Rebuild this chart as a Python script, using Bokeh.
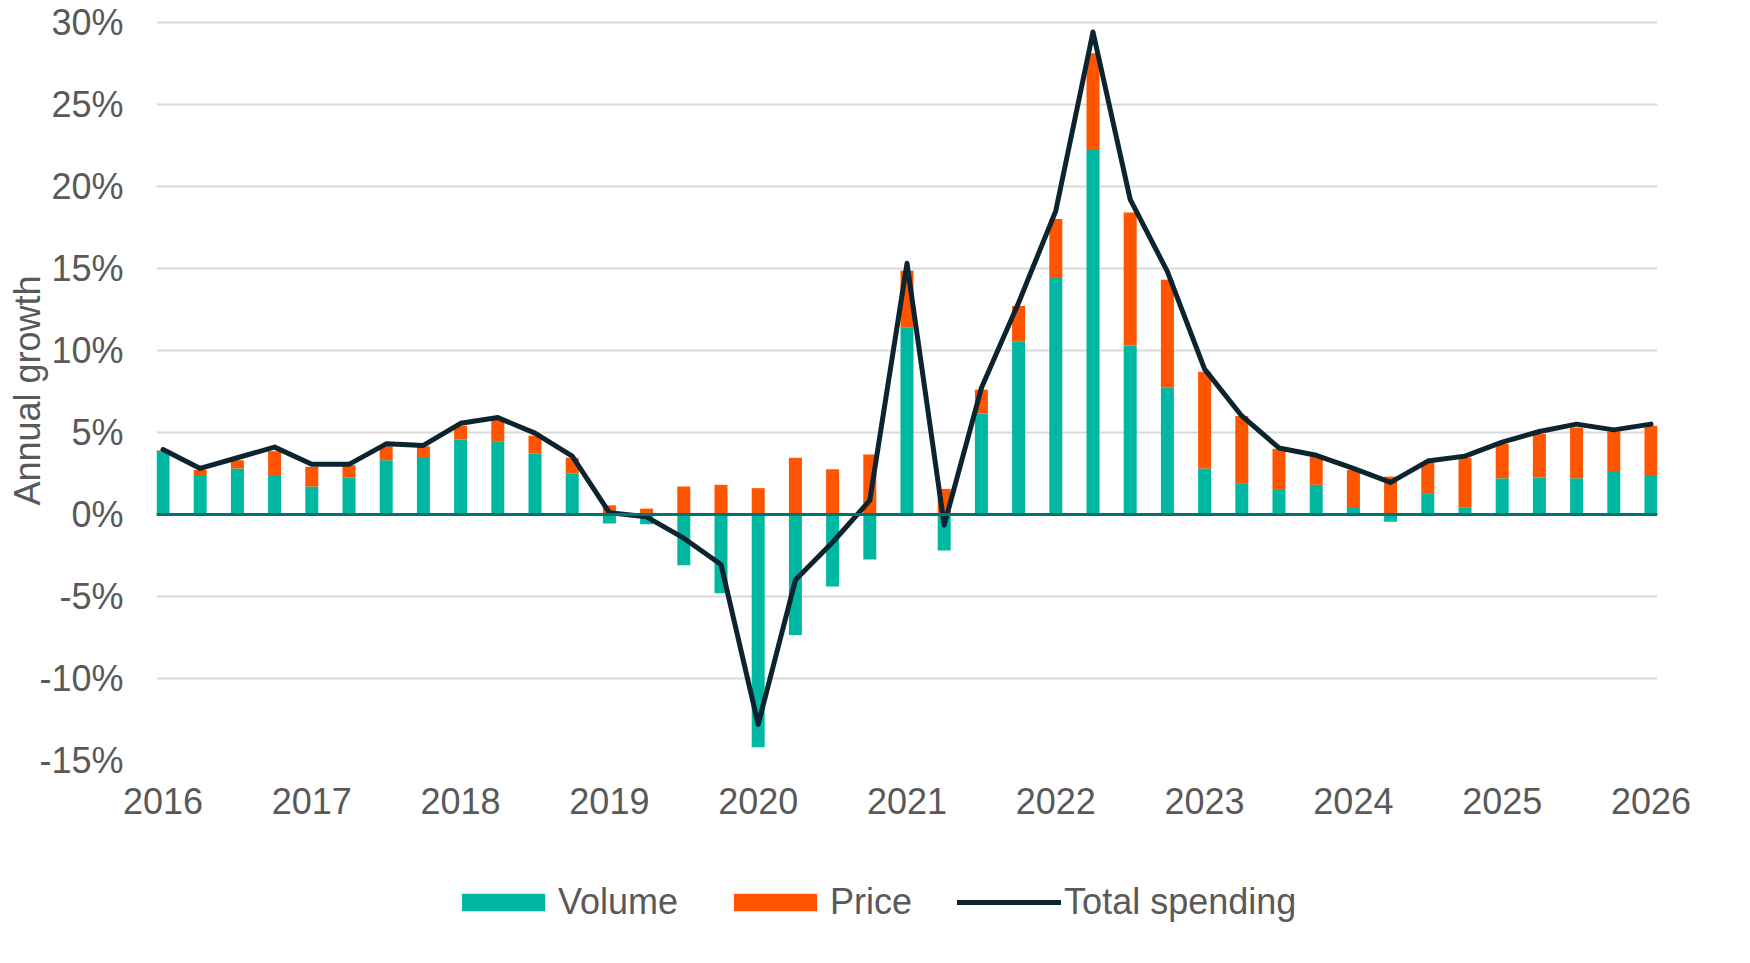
from bokeh.plotting import figure
from bokeh.models import Range1d, FixedTicker, PrintfTickFormatter, Span, Legend, LegendItem, ColumnDataSource
from bokeh.layouts import column
from bokeh.embed import file_html
from bokeh.resources import INLINE

# ---- data (annual growth, %) ----
years = [2016, 2017, 2018, 2019, 2020, 2021, 2022, 2023, 2024, 2025]
quarter_labels = [f"{y}Q{q}" for y in years for q in (1, 2, 3, 4)] + ["2026Q1"]

volume = [3.8, 2.4, 2.8, 2.4, 1.7, 2.25, 3.3, 3.5, 4.55, 4.45,
          3.7, 2.5, -0.55, -0.6, -3.1, -4.8, -14.2, -7.35, -4.4, -2.75,
          11.4, -2.2, 6.15, 10.55, 14.4, 22.2, 10.3, 7.75, 2.8, 1.9,
          1.55, 1.8, 0.45, -0.45, 1.25, 0.4, 2.2, 2.25, 2.2, 2.65, 2.4]
price = [0.1, 0.3, 0.5, 1.45, 1.2, 0.75, 0.85, 0.65, 0.85, 1.3,
         1.1, 0.95, 0.55, 0.35, 1.7, 1.8, 1.6, 3.45, 2.75, 3.65,
         3.45, 1.55, 1.45, 2.15, 3.6, 5.9, 8.1, 6.55, 5.9, 4.1,
         2.45, 1.7, 2.25, 2.3, 1.9, 3.05, 2.1, 2.65, 3.1, 2.4, 3.0]
total = [3.95, 2.8, 3.45, 4.1, 3.05, 3.05, 4.3, 4.2, 5.55, 5.9,
         4.95, 3.55, 0.1, -0.15, -1.45, -3.05, -12.8, -4.0, -1.7, 0.85,
         15.3, -0.65, 7.7, 12.9, 18.5, 29.4, 19.2, 14.8, 8.85, 6.0,
         4.05, 3.6, 2.8, 1.95, 3.25, 3.55, 4.4, 5.05, 5.5, 5.15, 5.5]

x_ticks = [2016, 2017, 2018, 2019, 2020, 2021, 2022, 2023, 2024, 2025, 2026]
y_ticks = [-15, -10, -5, 0, 5, 10, 15, 20, 25, 30]
series_names = ["Volume", "Price", "Total spending"]

# ---- styles ----
TEAL = "#00B8A2"
ORANGE = "#FF5500"
NAVY = "#0C2330"
ZERO = "#007373"
GRID = "#D9D9D9"
TXT = "#595959"
FONT = "Liberation Sans"

def qpos(label):
    y, q = label.split("Q")
    return int(y) + (int(q) - 1) / 4.0

x = [qpos(l) for l in quarter_labels]
vol_bottom = [0.0] * len(volume)
vol_top = volume
price_bottom = [max(v, 0.0) for v in volume]
price_top = [b + p for b, p in zip(price_bottom, price)]

src = ColumnDataSource(dict(x=x, vb=vol_bottom, vt=vol_top, pb=price_bottom, pt=price_top, total=total))

BW = 0.0874
LEFT = 156
RIGHT = 43
XR = (2016 - BW / 2, 2026 + BW / 2)
p = figure(width=1700, height=870, output_backend="svg", toolbar_location=None,
           x_range=Range1d(*XR), y_range=Range1d(-15, 30.1),
           min_border_left=LEFT, min_border_right=RIGHT, min_border_top=20, min_border_bottom=110)
p.outline_line_color = None
p.background_fill_color = "white"

p.vbar(x="x", bottom="vb", top="vt", width=BW, color=TEAL, line_color=None, source=src)
p.vbar(x="x", bottom="pb", top="pt", width=BW, color=ORANGE, line_color=None, source=src)
p.add_layout(Span(location=0, dimension="width", line_color=ZERO, line_width=3))
p.line(x="x", y="total", line_color=NAVY, line_width=5, line_join="round", line_cap="round", source=src)

# axes
p.xaxis.ticker = FixedTicker(ticks=x_ticks)
p.xaxis.formatter = PrintfTickFormatter(format="%d")
p.xaxis.axis_line_color = None
p.xaxis.major_tick_line_color = None
p.xaxis.minor_tick_line_color = None
p.xaxis.major_tick_out = 0
p.xaxis.major_label_standoff = 27
p.xaxis.major_label_text_font = FONT
p.xaxis.major_label_text_font_size = "36px"
p.xaxis.major_label_text_color = TXT

p.yaxis.ticker = FixedTicker(ticks=y_ticks)
p.yaxis.formatter = PrintfTickFormatter(format="%d%%")
p.yaxis.axis_line_color = None
p.yaxis.major_tick_line_color = None
p.yaxis.minor_tick_line_color = None
p.yaxis.major_tick_out = 0
p.yaxis.major_label_standoff = 33
p.yaxis.major_label_text_font = FONT
p.yaxis.major_label_text_font_size = "36px"
p.yaxis.major_label_text_color = TXT
p.yaxis.axis_label = "Annual growth"
p.yaxis.axis_label_text_font = FONT
p.yaxis.axis_label_text_font_size = "36px"
p.yaxis.axis_label_text_font_style = "normal"
p.yaxis.axis_label_text_color = TXT
p.yaxis.axis_label_standoff = -12

p.xgrid.grid_line_color = None
p.ygrid.ticker = FixedTicker(ticks=y_ticks)
p.ygrid.grid_line_color = GRID
p.ygrid.grid_line_width = 2

# ---- legend strip (separate small figure below; its y range lies above all data) ----
q = figure(width=1700, height=90, output_backend="svg", toolbar_location=None,
           x_axis_location=None, y_axis_location=None,
           x_range=Range1d(*XR), y_range=Range1d(500, 501),
           min_border_left=LEFT, min_border_right=RIGHT, min_border_top=0, min_border_bottom=0)
q.grid.visible = False
q.outline_line_color = None
lv = q.vbar(x="x", bottom="vb", top="vt", width=BW, color=TEAL, line_color=None, source=src)
lp = q.vbar(x="x", bottom="pb", top="pt", width=BW, color=ORANGE, line_color=None, source=src)
lt = q.line(x="x", y="total", line_color=NAVY, line_width=5, line_cap="round", source=src)

legend = Legend(items=[LegendItem(label=series_names[0], renderers=[lv]),
                       LegendItem(label=series_names[1], renderers=[lp]),
                       LegendItem(label=series_names[2], renderers=[lt])],
                orientation="horizontal", location=(295, 37))
legend.glyph_width = 104
legend.glyph_height = 22
legend.label_standoff = 3
legend.spacing = 45
legend.padding = 0
legend.margin = 0
legend.border_line_color = None
legend.background_fill_alpha = 0
legend.label_text_font = FONT
legend.label_text_font_size = "36px"
legend.label_text_color = TXT
q.add_layout(legend, "center")

open("out.html", "w").write(file_html(column(p, q, spacing=0), INLINE))
